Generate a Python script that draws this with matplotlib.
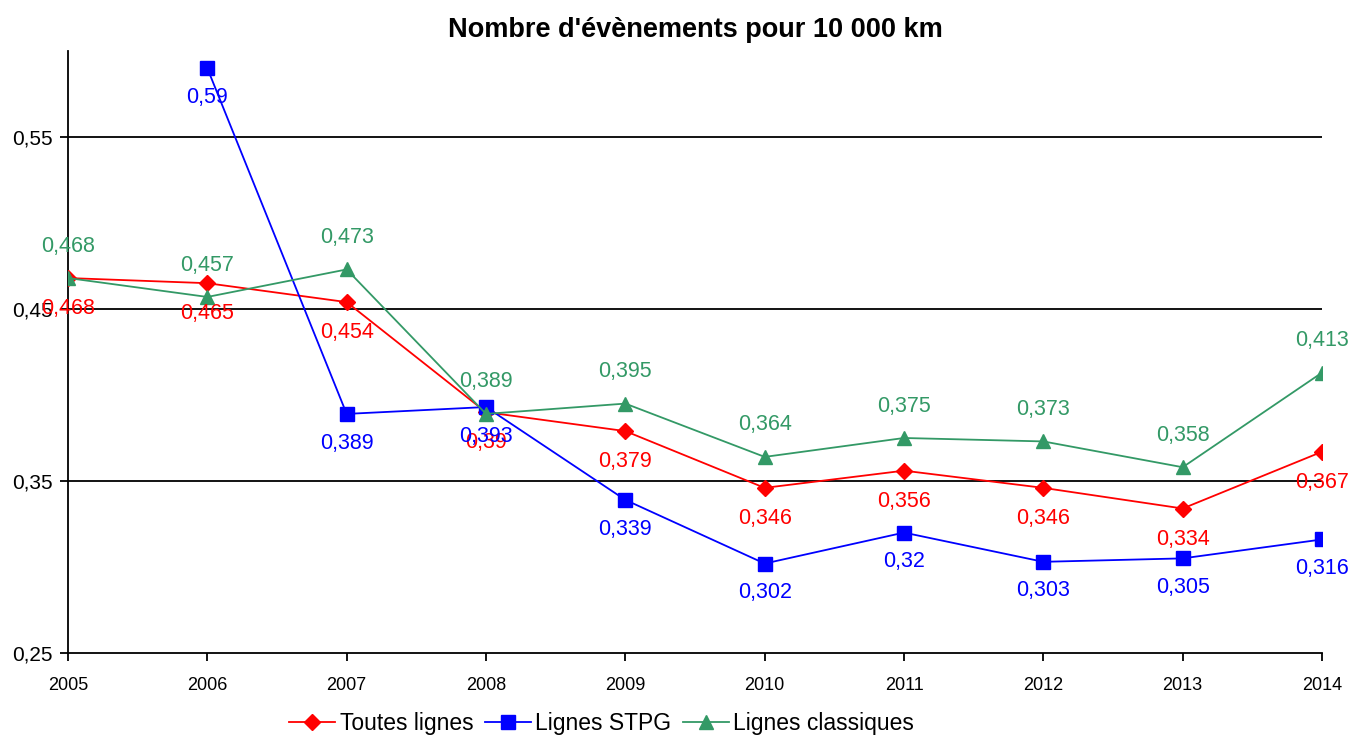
import matplotlib
matplotlib.use("Agg")
import matplotlib.pyplot as plt
import numpy as np

plt.rcParams['font.family'] = ['Liberation Sans', 'DejaVu Sans']

years = [2005, 2006, 2007, 2008, 2009, 2010, 2011, 2012, 2013, 2014]
toutes = [0.468, 0.465, 0.454, 0.39, 0.379, 0.346, 0.356, 0.346, 0.334, 0.367]
stpg = [np.nan, 0.59, 0.389, 0.393, 0.339, 0.302, 0.32, 0.303, 0.305, 0.316]
classiques = [0.468, 0.457, 0.473, 0.389, 0.395, 0.364, 0.375, 0.373, 0.358, 0.413]
yticks = [0.25, 0.35, 0.45, 0.55]

def fmt(v):
    s = ('%.3f' % v).rstrip('0').rstrip('.')
    return s.replace('.', ',')

fig = plt.figure(figsize=(13.49, 7.35), dpi=100)
ax = fig.add_axes([0.0504, 0.1116, 0.9296, 0.819])

for yt in yticks[1:]:
    ax.axhline(yt, color='black', lw=1.3, zorder=1)

red, blue, green = '#FF0000', '#0000FF', '#339966'
ax.plot(years, toutes, color=red, lw=1.3, marker='D', ms=8.5, label='Toutes lignes', zorder=3)
ax.plot(years, stpg, color=blue, lw=1.3, marker='s', ms=10, label='Lignes STPG', zorder=3)
ax.plot(years, classiques, color=green, lw=1.3, marker='^', ms=10.5, label='Lignes classiques', zorder=3)

lab_fs = 15.5
for x, v in zip(years, classiques):
    ax.annotate(fmt(v), (x, v), xytext=(0, 23), textcoords='offset points',
                ha='center', va='center', color=green, fontsize=lab_fs)
for x, v in zip(years, toutes):
    ax.annotate(fmt(v), (x, v), xytext=(0, -22), textcoords='offset points',
                ha='center', va='center', color=red, fontsize=lab_fs)
for x, v in zip(years, stpg):
    if np.isnan(v):
        continue
    ax.annotate(fmt(v), (x, v), xytext=(0, -21), textcoords='offset points',
                ha='center', va='center', color=blue, fontsize=lab_fs)

ax.set_xlim(2005, 2014)
ax.set_ylim(0.25, 0.6)
ax.set_yticks(yticks)
ax.set_yticklabels([fmt(v) for v in yticks])
ax.set_xticks(years)
ax.set_xticklabels([str(y) for y in years])
ax.tick_params(axis='both', direction='out', length=6, width=1.3, colors='black')
ax.tick_params(axis='x', pad=11, labelsize=13)
ax.tick_params(axis='y', pad=5, labelsize=15)
for s in ['top', 'right']:
    ax.spines[s].set_visible(False)
for s in ['left', 'bottom']:
    ax.spines[s].set_linewidth(1.3)

ax.set_title("Nombre d'évènements pour 10 000 km", fontsize=19.5, fontweight='bold', pad=10)

fig.legend(loc='center', bbox_to_anchor=(0.446, 0.016), ncol=3, frameon=False,
           fontsize=16.5, handlelength=2.0, handletextpad=0.2, columnspacing=0.5)

fig.savefig('out.png', dpi=100)
